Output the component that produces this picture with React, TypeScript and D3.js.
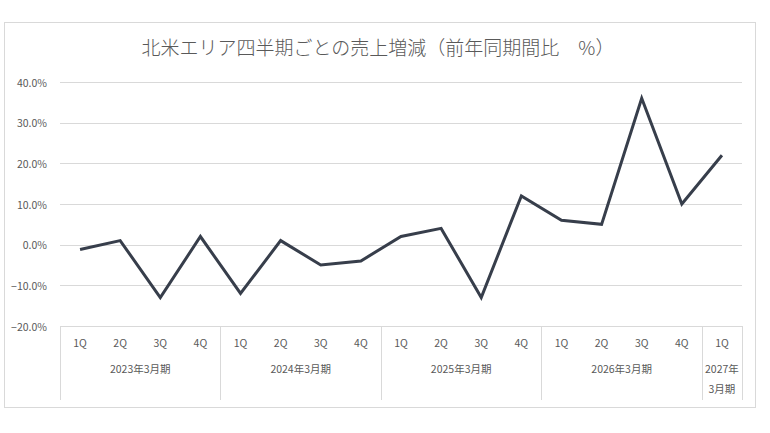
import React, { useEffect, useRef } from "react";
import * as d3 from "d3";

const quarters = ["1Q", "2Q", "3Q", "4Q", "1Q", "2Q", "3Q", "4Q", "1Q", "2Q", "3Q", "4Q", "1Q", "2Q", "3Q", "4Q", "1Q"];
const fiscalYears = ["2023年3月期", "2024年3月期", "2025年3月期", "2026年3月期", "2027年3月期"];
const quartersPerYear = [4, 4, 4, 4, 1];
const growth = [-1.2, 1, -13, 2, -12, 1, -5, -4, 2, 4, -13, 12, 6, 5, 36, 10, 22];
const yTicks = [-20, -10, 0, 10, 20, 30, 40];
const title = "北米エリア四半期ごとの売上増減（前年同期間比　%）";

const width = 770;
const height = 433;
const font = "'Noto Sans CJK JP', 'Noto Sans', sans-serif";
const textColor = "#595959";
const gridColor = "#d9d9d9";

const App: React.FC = () => {
  const ref = useRef<SVGSVGElement | null>(null);

  useEffect(() => {
    if (!ref.current) return;
    const svg = d3.select(ref.current);
    svg.selectAll("*").remove();

    const left = 60;
    const right = 742;
    const top = 82;
    const bottom = 326;
    const catBottom = 400;

    const keys = quarters.map((_, i) => String(i));
    const x = d3.scaleBand<string>().domain(keys).range([left, right]).padding(0);
    const y = d3.scaleLinear().domain([-20, 40]).range([bottom, top]);

    svg.append("rect")
      .attr("x", 0).attr("y", 0).attr("width", width).attr("height", height)
      .attr("fill", "#fff");

    svg.append("rect")
      .attr("x", 4.5).attr("y", 22.5).attr("width", 751).attr("height", 385)
      .attr("fill", "#fff").attr("stroke", gridColor).attr("stroke-width", 1);

    svg.append("text")
      .attr("x", 378).attr("y", 55)
      .attr("text-anchor", "middle")
      .attr("font-family", font)
      .attr("font-size", 19)
      .attr("font-weight", 300)
      .attr("fill", textColor)
      .text(title);

    // gridlines + y labels
    const grid = svg.append("g");
    grid.selectAll("line")
      .data(yTicks)
      .enter()
      .append("line")
      .attr("x1", left).attr("x2", right)
      .attr("y1", (d) => Math.round(y(d)) + 0.5)
      .attr("y2", (d) => Math.round(y(d)) + 0.5)
      .attr("stroke", gridColor).attr("stroke-width", 1);

    grid.selectAll("text")
      .data(yTicks)
      .enter()
      .append("text")
      .attr("x", 47).attr("y", (d) => y(d))
      .attr("text-anchor", "end")
      .attr("dominant-baseline", "central")
      .attr("font-family", font)
      .attr("font-size", 10.5)
      .attr("fill", textColor)
      .text((d) => d3.format(".1f")(d) + "%");

    // category axis
    const cat = svg.append("g");
    cat.selectAll("text")
      .data(quarters)
      .enter()
      .append("text")
      .attr("x", (_, i) => (x(String(i)) ?? 0) + x.bandwidth() / 2)
      .attr("y", 342)
      .attr("text-anchor", "middle")
      .attr("dominant-baseline", "central")
      .attr("font-family", font)
      .attr("font-size", 10.5)
      .attr("fill", textColor)
      .text((d) => d);

    const starts = d3.cumsum([0, ...quartersPerYear]);
    const edges = Array.from(starts).map((s) =>
      s < quarters.length ? (x(String(s)) ?? 0) : right
    );
    cat.selectAll("line")
      .data(edges)
      .enter()
      .append("line")
      .attr("x1", (d) => Math.round(d) + 0.5).attr("x2", (d) => Math.round(d) + 0.5)
      .attr("y1", bottom).attr("y2", catBottom)
      .attr("stroke", gridColor).attr("stroke-width", 1);

    fiscalYears.forEach((label, i) => {
      const x0 = edges[i];
      const x1 = edges[i + 1];
      const cx = (x0 + x1) / 2;
      const cut = label.indexOf("年") + 1;
      // narrow group: wrap after 年
      const lines = x1 - x0 < 70 ? [label.slice(0, cut), label.slice(cut)] : [label];
      lines.forEach((t, j) => {
        cat.append("text")
          .attr("x", cx)
          .attr("y", 368 + j * 20)
          .attr("text-anchor", "middle")
          .attr("dominant-baseline", "central")
          .attr("font-family", font)
          .attr("font-size", 10.5)
          .attr("fill", textColor)
          .text(t);
      });
    });

    const line = d3.line<number>()
      .x((_, i) => (x(String(i)) ?? 0) + x.bandwidth() / 2)
      .y((d) => y(d));

    svg.append("path")
      .datum(growth)
      .attr("d", line)
      .attr("fill", "none")
      .attr("stroke", "#373e4b")
      .attr("stroke-width", 3)
      .attr("stroke-linejoin", "miter");
  }, []);

  return (
    <>
      <style>{`body{margin:0}`}</style>
      <svg ref={ref} width={width} height={height} style={{ display: "block" }}></svg>
    </>
  );
};

export default App;
